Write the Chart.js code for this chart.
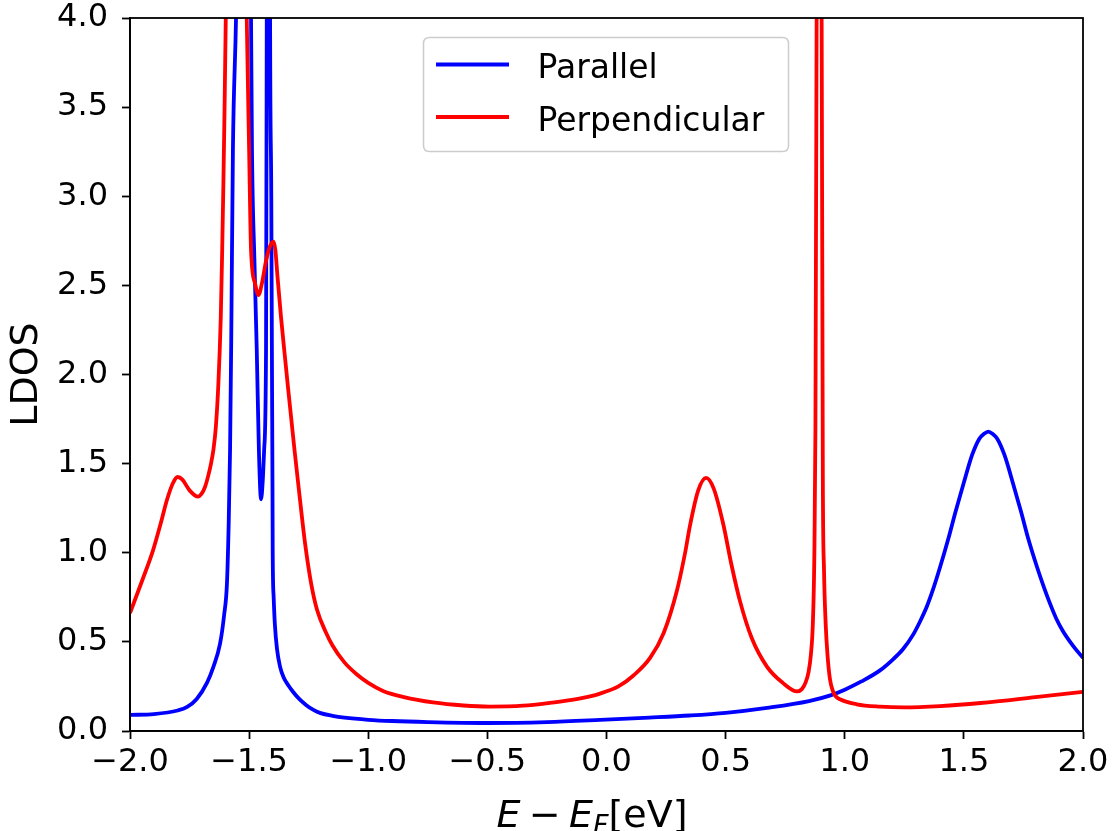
<!DOCTYPE html>
<html><head><meta charset="utf-8">
<script src="https://cdn.jsdelivr.net/npm/chart.js@4.4.1/dist/chart.umd.min.js"></script>
<style>html,body{margin:0;padding:0;background:#fff;}#wrap{width:1112px;height:831px;}</style>
</head><body><div id="wrap"><canvas id="c" width="1112" height="831"></canvas></div>
<script>
// ---- data ----
const seriesLabels = ['Parallel', 'Perpendicular'];
const parallelX = [-2.0,-1.9,-1.8,-1.76,-1.72,-1.677,-1.65,-1.622,-1.605,-1.593,-1.586,-1.58,-1.575,-1.568,-1.555,-1.545,-1.523,-1.501,-1.492,-1.488,-1.478,-1.468,-1.459,-1.45,-1.443,-1.437,-1.429,-1.426,-1.419,-1.412,-1.407,-1.404,-1.402,-1.401,-1.397,-1.392,-1.383,-1.37,-1.355,-1.335,-1.316,-1.29,-1.26,-1.23,-1.2,-1.15,-1.1,-1.0,-0.9,-0.75,-0.5,-0.25,-0.027,0.18,0.35,0.5,0.674,0.85,0.94,1.0,1.07,1.148,1.205,1.245,1.289,1.318,1.345,1.372,1.398,1.435,1.465,1.499,1.535,1.565,1.585,1.6025,1.62,1.64,1.67,1.706,1.74,1.77,1.807,1.835,1.86,1.888,1.916,1.96,2.0];
const parallelY = [0.09,0.095,0.115,0.135,0.18,0.27,0.36,0.49,0.65,0.83,1.15,1.576,2.2,3.26,4.0,4.9,6.3,4.9,4.0,3.26,2.65,2.14,1.576,1.30,1.40,1.576,2.14,4.0,10,4.0,3.0,2.0,1.4,1.0,0.75,0.6,0.46,0.36,0.30,0.255,0.22,0.18,0.145,0.118,0.10,0.085,0.075,0.063,0.056,0.05,0.045,0.05,0.062,0.075,0.087,0.102,0.13,0.168,0.20,0.232,0.278,0.34,0.405,0.46,0.545,0.62,0.70,0.80,0.91,1.08,1.23,1.39,1.55,1.64,1.668,1.68,1.668,1.64,1.55,1.39,1.23,1.08,0.92,0.81,0.72,0.63,0.56,0.475,0.41];
const perpX = [-2.0,-1.95,-1.903,-1.87,-1.845,-1.82,-1.80,-1.78,-1.75,-1.715,-1.70,-1.685,-1.672,-1.66,-1.65,-1.64,-1.629,-1.619,-1.613,-1.608,-1.603,-1.598,-1.58,-1.554,-1.53,-1.51,-1.50,-1.492,-1.475,-1.461,-1.445,-1.43,-1.415,-1.398,-1.39,-1.381,-1.366,-1.352,-1.337,-1.323,-1.309,-1.29,-1.265,-1.24,-1.215,-1.18,-1.15,-1.1,-1.05,-1.0,-0.938,-0.85,-0.728,-0.6,-0.49,-0.35,-0.237,-0.12,-0.027,0.05,0.112,0.183,0.24,0.296,0.33,0.35,0.385,0.418,0.45,0.489,0.525,0.56,0.61,0.674,0.74,0.80,0.82,0.835,0.848,0.858,0.866,0.872,0.877,0.882,0.892,0.903,0.908,0.913,0.92,0.928,0.938,0.95,0.962,0.98,1.05,1.148,1.25,1.4,1.57,1.8,2.0];
const perpY = [0.662,0.84,1.015,1.17,1.296,1.39,1.425,1.41,1.35,1.315,1.33,1.37,1.43,1.50,1.576,1.70,1.95,2.32,2.70,3.07,3.5,4.0,6.0,8.5,6.0,4.0,3.26,2.70,2.51,2.446,2.52,2.63,2.71,2.745,2.70,2.55,2.32,2.13,1.93,1.75,1.57,1.34,1.05,0.83,0.68,0.56,0.48,0.385,0.32,0.27,0.225,0.19,0.16,0.143,0.137,0.142,0.158,0.18,0.21,0.25,0.31,0.41,0.55,0.79,1.0,1.15,1.35,1.42,1.36,1.167,0.93,0.73,0.52,0.36,0.27,0.222,0.235,0.27,0.33,0.43,0.6,0.95,1.7,4.0,14,4.0,1.425,0.9,0.6,0.42,0.29,0.225,0.195,0.178,0.15,0.137,0.133,0.14,0.157,0.19,0.22];
const xTicks = [-2.0,-1.5,-1.0,-0.5,0.0,0.5,1.0,1.5,2.0];
const yTicks = [0.0,0.5,1.0,1.5,2.0,2.5,3.0,3.5,4.0];
const yAxisLabel = 'LDOS';
const xLabelParts = [['E','i'],['\u2212','op'],['E','i'],['F','sub'],['[eV]','n']];

const FONT = 'DejaVu Sans';
const fmt = v => (v < 0 ? '\u2212' : '') + Math.abs(v).toFixed(1);
const pts = (xs, ys) => xs.map((x, i) => ({x: x, y: ys[i]}));

const framePlugin = {
  id: 'frameLegendLabel',
  afterDraw(chart) {
    const ctx = chart.ctx, a = chart.chartArea;
    ctx.save();
    ctx.strokeStyle = '#000'; ctx.lineWidth = 1.8;
    ctx.strokeRect(a.left, a.top, a.right - a.left, a.bottom - a.top);
    // legend
    const bx = 423.5, by = 37.5, bw = 365, bh = 114, r = 6;
    ctx.beginPath();
    ctx.moveTo(bx + r, by); ctx.lineTo(bx + bw - r, by); ctx.quadraticCurveTo(bx + bw, by, bx + bw, by + r);
    ctx.lineTo(bx + bw, by + bh - r); ctx.quadraticCurveTo(bx + bw, by + bh, bx + bw - r, by + bh);
    ctx.lineTo(bx + r, by + bh); ctx.quadraticCurveTo(bx, by + bh, bx, by + bh - r);
    ctx.lineTo(bx, by + r); ctx.quadraticCurveTo(bx, by, bx + r, by); ctx.closePath();
    ctx.fillStyle = 'rgba(255,255,255,0.8)'; ctx.fill();
    ctx.strokeStyle = '#cccccc'; ctx.lineWidth = 1.5; ctx.stroke();
    const ds = chart.data.datasets;
    const rows = [64.5, 117];
    ctx.font = '33px "' + FONT + '"';
    ctx.textBaseline = 'alphabetic'; ctx.textAlign = 'left';
    ds.forEach((d, i) => {
      ctx.strokeStyle = d.borderColor; ctx.lineWidth = 3.8;
      ctx.beginPath(); ctx.moveTo(436, rows[i]); ctx.lineTo(509, rows[i]); ctx.stroke();
      ctx.fillStyle = '#000';
      ctx.fillText(d.label, 537.5, rows[i] + 13.5);
    });
    // x axis label with math styling
    const size = 38;
    const fonts = {
      i: 'italic ' + size + 'px "' + FONT + '"',
      op: size + 'px "' + FONT + '"',
      sub: 'italic ' + Math.round(size * 0.7) + 'px "' + FONT + '"',
      n: size + 'px "' + FONT + '"'
    };
    const gap = size * 0.22;
    let total = 0;
    const widths = xLabelParts.map(p => {
      ctx.font = fonts[p[1]];
      let w = ctx.measureText(p[0]).width;
      if (p[1] === 'op') w += 2 * gap;
      total += w; return w;
    });
    let x = 592 - total / 2;
    const base = 827;
    ctx.fillStyle = '#000';
    xLabelParts.forEach((p, i) => {
      ctx.font = fonts[p[1]];
      const off = p[1] === 'op' ? gap : 0;
      const y = p[1] === 'sub' ? base + 7 : base;
      ctx.fillText(p[0], x + off, y);
      x += widths[i];
    });
    ctx.restore();
  }
};

new Chart(document.getElementById('c'), {
  type: 'line',
  data: {
    datasets: [
      {label: seriesLabels[0], data: pts(parallelX, parallelY), borderColor: '#0000ff', borderWidth: 3.8, pointRadius: 0, fill: false, cubicInterpolationMode: 'monotone', order: 1},
      {label: seriesLabels[1], data: pts(perpX, perpY), borderColor: '#ff0000', borderWidth: 3.8, pointRadius: 0, fill: false, cubicInterpolationMode: 'monotone', order: 0}
    ]
  },
  options: {
    responsive: false,
    animation: false,
    devicePixelRatio: 1,
    layout: {padding: {top: 18, right: 29, left: 0, bottom: 0}},
    plugins: {legend: {display: false}, tooltip: {enabled: false}},
    scales: {
      x: {
        type: 'linear', min: -2, max: 2,
        afterBuildTicks: s => { s.ticks = xTicks.map(v => ({value: v})); },
        afterFit: s => { s.height = 100; s.paddingLeft = 0; s.paddingRight = 0; },
        grid: {display: true, drawOnChartArea: false, drawTicks: true, tickLength: 8, tickWidth: 1.8, tickColor: '#000'},
        border: {display: true, color: '#000', width: 1.8},
        ticks: {callback: v => fmt(v), color: '#000', padding: 6, maxRotation: 0, autoSkip: false, font: {family: FONT, size: 32, lineHeight: 1.1}}
      },
      y: {
        min: 0, max: 4,
        afterBuildTicks: s => { s.ticks = yTicks.map(v => ({value: v})); },
        afterFit: s => { s.width = 130; s.paddingTop = 0; s.paddingBottom = 0; },
        grid: {display: true, drawOnChartArea: false, drawTicks: true, tickLength: 8, tickWidth: 1.8, tickColor: '#000'},
        border: {display: true, color: '#000', width: 1.8},
        ticks: {callback: v => fmt(v), color: '#000', padding: 14, autoSkip: false, font: {family: FONT, size: 32, lineHeight: 1.1}},
        title: {display: true, text: yAxisLabel, color: '#000', font: {family: FONT, size: 38, lineHeight: 1.2}, padding: {top: 4, bottom: 0}}
      }
    }
  },
  plugins: [framePlugin]
});
</script></body></html>
